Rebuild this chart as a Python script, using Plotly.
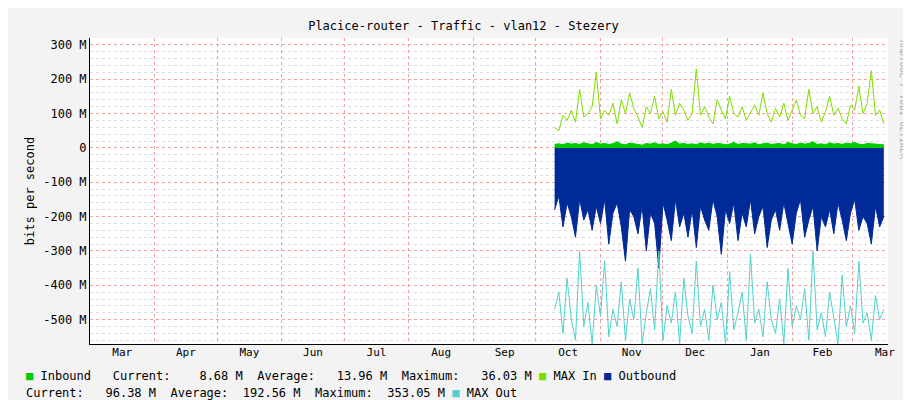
import pandas as pd
import plotly.graph_objects as go

max_in = [60,50,95,80,110,75,170,90,100,120,220,85,110,95,130,70,140,100,160,115,90,60,120,100,150,85,105,75,170,95,130,110,80,100,230,95,120,90,70,140,110,85,150,100,90,120,80,105,125,95,160,100,75,115,90,130,80,110,140,95,85,170,100,120,75,105,150,95,115,85,70,125,110,180,100,130,225,95,110,70]
inbound = [10,12,9,14,11,13,10,15,12,9,16,11,13,10,12,18,11,9,14,12,10,8,13,11,15,10,12,9,14,20,11,13,10,12,9,15,11,14,10,13,12,9,11,16,10,13,12,11,15,9,12,14,10,11,13,9,16,12,10,14,11,13,18,10,12,9,15,11,13,10,14,12,16,11,9,13,12,10,11,9]
outbound = [-180,-140,-230,-160,-200,-260,-150,-210,-180,-240,-170,-220,-150,-280,-190,-160,-230,-330,-180,-200,-250,-170,-300,-190,-220,-350,-160,-210,-270,-150,-230,-190,-260,-180,-290,-170,-210,-240,-150,-200,-310,-180,-220,-160,-270,-190,-230,-150,-250,-200,-170,-290,-210,-180,-240,-160,-220,-280,-190,-150,-260,-210,-170,-300,-200,-230,-180,-250,-160,-210,-270,-190,-150,-240,-200,-220,-280,-170,-230,-200]
max_out = [-470,-420,-540,-380,-500,-560,-300,-520,-450,-570,-400,-490,-330,-550,-470,-520,-390,-560,-440,-500,-350,-570,-480,-410,-530,-300,-560,-460,-510,-420,-570,-380,-490,-540,-330,-520,-470,-560,-400,-500,-450,-570,-360,-530,-480,-420,-560,-310,-510,-470,-550,-390,-500,-540,-440,-570,-350,-520,-460,-500,-410,-560,-300,-530,-480,-550,-420,-500,-570,-370,-520,-460,-540,-330,-510,-480,-560,-430,-500,-470]
y_ticks = [300, 200, 100, 0, -100, -200, -300, -400, -500]
y_labels = ["300 M", "200 M", "100 M", "0", "-100 M", "-200 M", "-300 M", "-400 M", "-500 M"]
month_labels = ["Mar","Apr","May","Jun","Jul","Aug","Sep","Oct","Nov","Dec","Jan","Feb","Mar"]

dates = pd.date_range("2015-10-10", periods=len(max_in), freq="2D")
month_starts = pd.date_range("2015-03-01", periods=len(month_labels) + 1, freq="MS")
mid = [month_starts[i] + (month_starts[i+1] - month_starts[i]) / 2 for i in range(len(month_labels))]

mono = "DejaVu Sans Mono"
fig = go.Figure()
fig.add_trace(go.Scatter(x=dates, y=outbound, fill="tozeroy", mode="lines", line=dict(color="#002A97", width=1), fillcolor="#002A97"))
fig.add_trace(go.Scatter(x=dates, y=inbound, fill="tozeroy", mode="lines", line=dict(color="#00CC00", width=1), fillcolor="#00CC00"))
fig.add_trace(go.Scatter(x=dates, y=max_in, mode="lines", line=dict(color="#7FDD00", width=1)))
fig.add_trace(go.Scatter(x=dates, y=max_out, mode="lines", line=dict(color="#4FD1CD", width=1)))
fig.add_trace(go.Scatter(x=mid, y=[None]*len(mid), xaxis="x2", showlegend=False))

fig.update_layout(
    width=911, height=400, showlegend=False,
    paper_bgcolor="#F3F3F3", plot_bgcolor="#FFFFFF",
    margin=dict(l=82, r=31, t=30, b=64),
    font=dict(family=mono, size=12, color="#000"),
    title=dict(text="Placice-router - Traffic - vlan12 - Stezery", x=0.5, xanchor="center", y=0.965, font=dict(size=12)),
    xaxis=dict(type="date", range=[month_starts[0], pd.Timestamp("2016-03-18")], tick0=month_starts[0], dtick="M1",
               showticklabels=False, showgrid=True, gridcolor="#F4A0A0", griddash="dot", gridwidth=1,
               showline=True, linecolor="#000", zeroline=False, ticks="", automargin=False),
    xaxis2=dict(type="date", overlaying="x", matches="x", side="bottom", tickvals=mid, ticktext=month_labels,
                showgrid=False, ticks="", tickfont=dict(size=11), showline=False, automargin=False),
    yaxis=dict(range=[-571, 320], tickvals=y_ticks, ticktext=y_labels, tickfont=dict(size=12), automargin=False,
               showgrid=True, gridcolor="#F4A0A0", griddash="dot", zeroline=False, showline=True, linecolor="#000",
               minor=dict(dtick=20, showgrid=True, gridcolor="#DDDDDD", griddash="dot"),
               title=dict(text="bits per second", font=dict(size=12), standoff=6)),
)
legend1 = ("<span style='color:#00CC00'>■</span> Inbound   Current:    8.68 M  Average:   13.96 M  Maximum:   36.03 M "
           "<span style='color:#7FDD00'>■</span> MAX In <span style='color:#002A97'>■</span> Outbound")
legend2 = "Current:   96.38 M  Average:  192.56 M  Maximum:  353.05 M <span style='color:#4FD1CD'>■</span> MAX Out"
def nb(s):
    return s.replace(" ", "&nbsp;").replace("<span&nbsp;", "<span ")
fig.add_annotation(text=nb(legend1), xref="paper", yref="paper", x=-66/798, y=-32/306,
                   xanchor="left", yanchor="middle", showarrow=False, font=dict(size=12, family=mono))
fig.add_annotation(text=nb(legend2), xref="paper", yref="paper", x=-66/798, y=-49/306,
                   xanchor="left", yanchor="middle", showarrow=False, font=dict(size=12, family=mono))
fig.add_annotation(text="RRDTOOL / TOBI OETIKER", xref="paper", yref="paper", x=1 + 22/798, y=1.0, yanchor="top",
                   textangle=90, showarrow=False, font=dict(size=9, color="#AAAAAA", family=mono))
fig.write_html("out.html")
